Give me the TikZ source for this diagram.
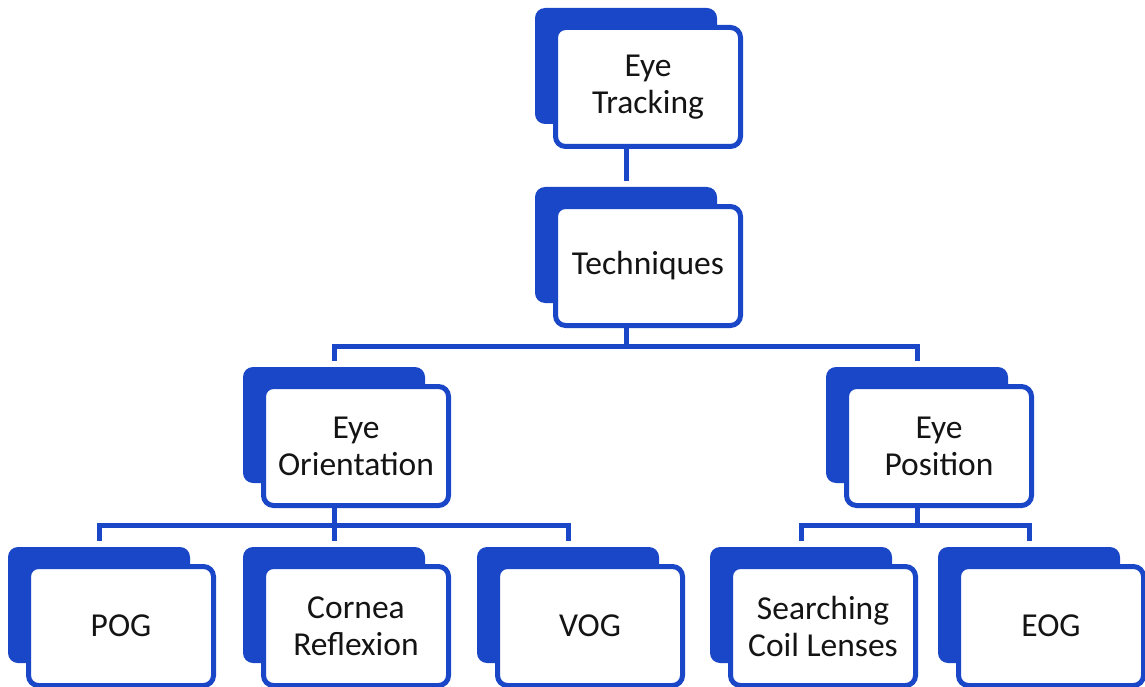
\documentclass[tikz,border=0pt]{standalone}
\usepackage{fontspec}
\setmainfont{Carlito}
\usetikzlibrary{calc}
\definecolor{royal}{RGB}{26,70,200}
\definecolor{ink}{RGB}{20,20,20}
\tikzset{
  backbox/.style={fill=royal, draw=none, rounded corners=10pt,
    minimum width=182pt, minimum height=116pt, inner sep=0pt, outer sep=0pt},
  frontbox/.style={fill=white, draw=royal, line width=5pt, rounded corners=10pt,
    minimum width=185pt, minimum height=119pt, inner sep=0pt, outer sep=0pt,
    align=center, text=ink, font=\fontsize{33.5}{37}\selectfont},
  link/.style={draw=royal, line width=5pt},
  gap/.style={shorten <=6pt, shorten >=6pt}
}
\begin{document}
\begin{tikzpicture}[x=1pt,y=-1pt]
\useasboundingbox (0,0) rectangle (1145,687);
\clip (0,0) rectangle (1145,687);

% back plates (offset shadows)
\node[backbox] (trk-b) at (626,66)  {};
\node[backbox] (tec-b) at (626,245) {};
\node[backbox] (ori-b) at (334,425) {};
\node[backbox] (pos-b) at (917,425) {};
\node[backbox] (pog-b) at (99,605)  {};
\node[backbox] (cor-b) at (334,605) {};
\node[backbox] (vog-b) at (568,605) {};
\node[backbox] (scl-b) at (801,605) {};
\node[backbox] (eog-b) at (1029,605) {};

% front boxes with labels
\node[frontbox] (trk) at ($(trk-b)+(22,21)$) {Eye\\Tracking};
\node[frontbox] (tec) at ($(tec-b)+(22,21)$) {Techniques};
\node[frontbox] (ori) at ($(ori-b)+(22,21)$) {Eye\\Orientation};
\node[frontbox] (pos) at ($(pos-b)+(22,21)$) {Eye\\Position};
\node[frontbox] (pog) at ($(pog-b)+(22,21)$) {POG};
\node[frontbox] (cor) at ($(cor-b)+(22,21)$) {Cornea\\Reflexion};
\node[frontbox] (vog) at ($(vog-b)+(22,21)$) {VOG};
\node[frontbox] (scl) at ($(scl-b)+(22,21)$) {Searching\\Coil Lenses};
\node[frontbox] (eog) at ($(eog-b)+(22,21)$) {EOG};

% junction points of the branch bars
\coordinate (j1) at ($(tec-b |- tec.south)+(0,21)$);
\coordinate (j2) at ($(ori-b |- ori.south)+(0,20)$);
\coordinate (j3) at ($(pos-b |- pos.south)+(0,20)$);

% connectors
\draw[link, shorten >=6pt] (trk-b |- trk.south) -- (tec-b.north);
\draw[link] (tec-b |- tec.south) -- (j1);
\draw[link, gap] (ori-b.north) |- (j1) -| (pos-b.north);
\draw[link, shorten >=6pt] (ori-b |- ori.south) -- (cor-b.north);
\draw[link, gap] (pog-b.north) |- (j2) -| (vog-b.north);
\draw[link] (pos-b |- pos.south) -- (j3);
\draw[link, gap] (scl-b.north) |- (j3) -| (eog-b.north);
\end{tikzpicture}
\end{document}
